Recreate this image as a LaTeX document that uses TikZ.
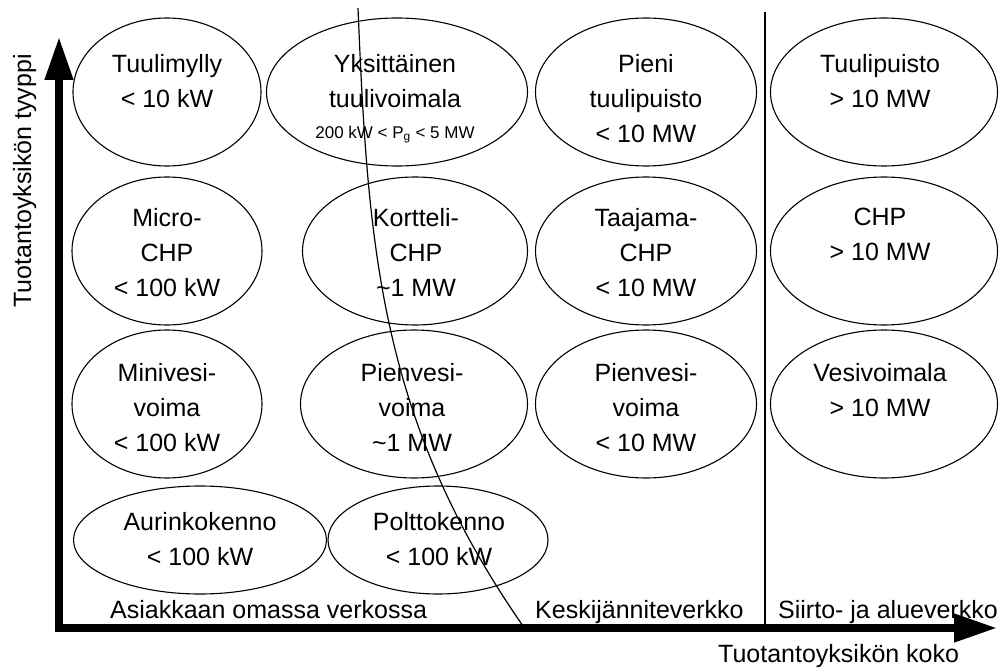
\documentclass[tikz,border=0pt]{standalone}
\usepackage{fontspec}
\setmainfont{Liberation Sans}
\usetikzlibrary{arrows.meta,shapes.geometric}
\begin{document}
\begin{tikzpicture}[x=1pt,y=-1pt,
  oval/.style={draw=black, line width=1.1pt, ellipse, inner sep=0pt},
  lbl/.style={font=\fontsize{25}{35}\selectfont, align=center, inner sep=0pt, anchor=north},
  axislbl/.style={font=\fontsize{25}{30}\selectfont, inner sep=0pt},
  axis/.style={line width=7.5pt, line join=miter},
  bigtip/.tip={Triangle[width=27pt,length=43pt]}]
\useasboundingbox (0,0) rectangle (1006,668);

% row 1
\node[oval, minimum width=188pt, minimum height=148pt] (e11) at (167,92) {};
\node[oval, minimum width=261pt, minimum height=148pt] (e12) at (397,92) {};
\node[oval, minimum width=221pt, minimum height=148pt] (e13) at (646,92) {};
\node[oval, minimum width=227pt, minimum height=148pt] (e14) at (884,92) {};
% row 2
\node[oval, minimum width=190pt, minimum height=148pt] (e21) at (167,251) {};
\node[oval, minimum width=225pt, minimum height=148pt] (e22) at (415,251) {};
\node[oval, minimum width=221pt, minimum height=148pt] (e23) at (646,251) {};
\node[oval, minimum width=227pt, minimum height=148pt] (e24) at (884,251) {};
% row 3
\node[oval, minimum width=190pt, minimum height=148pt] (e31) at (167,404) {};
\node[oval, minimum width=227pt, minimum height=148pt] (e32) at (414,404) {};
\node[oval, minimum width=221pt, minimum height=148pt] (e33) at (646,404) {};
\node[oval, minimum width=227pt, minimum height=148pt] (e34) at (884,404) {};
% row 4
\node[oval, minimum width=253pt, minimum height=108pt] (e41) at (200,540) {};
\node[oval, minimum width=220pt, minimum height=108pt] (e42) at (438,540) {};

% texts
\node[lbl] (t11) at (167,54) {Tuulimylly\\< 10 kW};
\node[lbl] (t12) at (395,54) {Yksittäinen\\tuulivoimala\\[-4pt]{\fontsize{17}{20}\selectfont 200 kW < P\textsubscript{g} < 5 MW}};
\node[lbl] (t13) at (646,54) {Pieni\\tuulipuisto\\< 10 MW};
\node[lbl] (t14) at (880,54) {Tuulipuisto\\> 10 MW};

\node[lbl] (t21) at (167,208) {Micro-\\CHP\\< 100 kW};
\node[lbl] (t22) at (416,208) {Kortteli-\\CHP\\\textasciitilde1 MW};
\node[lbl] (t23) at (646,208) {Taajama-\\CHP\\< 10 MW};
\node[lbl] (t24) at (880,208) {CHP\\> 10 MW};

\node[lbl] (t31) at (167,363) {Minivesi-\\voima\\< 100 kW};
\node[lbl] (t32) at (412,363) {Pienvesi-\\voima\\\textasciitilde1 MW};
\node[lbl] (t33) at (646,363) {Pienvesi-\\voima\\< 10 MW};
\node[lbl] (t34) at (880,363) {Vesivoimala\\> 10 MW};

\node[lbl] (t41) at (200,512) {Aurinkokenno\\< 100 kW};
\node[lbl] (t42) at (439,512) {Polttokenno\\< 100 kW};

% divider and boundary curve
\coordinate (d1) at (765,12);
\coordinate (d2) at (765,626);
\draw[line width=1.8pt] (d1) -- (d2);
\coordinate (c0) at (358,8);
\coordinate (c3) at (523,626);
\draw[line width=1.2pt] (c0) .. controls (368,250) and (380,420) .. (c3);

% axes
\coordinate (ytip) at (59,37);
\coordinate (org) at (59,628);
\coordinate (xtip) at (997,628);
\draw[axis, bigtip-bigtip] (ytip) -- (org) -- (xtip);

% axis / zone labels
\node[axislbl, anchor=base west] (l1) at (110,618) {Asiakkaan omassa verkossa};
\node[axislbl, anchor=base west] (l2) at (535,618) {Keskijänniteverkko};
\node[axislbl, anchor=base west] (l3) at (778,618) {Siirto- ja alueverkko};
\node[axislbl, anchor=base west] (l4) at (718,662) {Tuotantoyksikön koko};
\node[axislbl, anchor=base, rotate=90] (l5) at (31,181) {Tuotantoyksikön tyyppi};
\end{tikzpicture}
\end{document}
